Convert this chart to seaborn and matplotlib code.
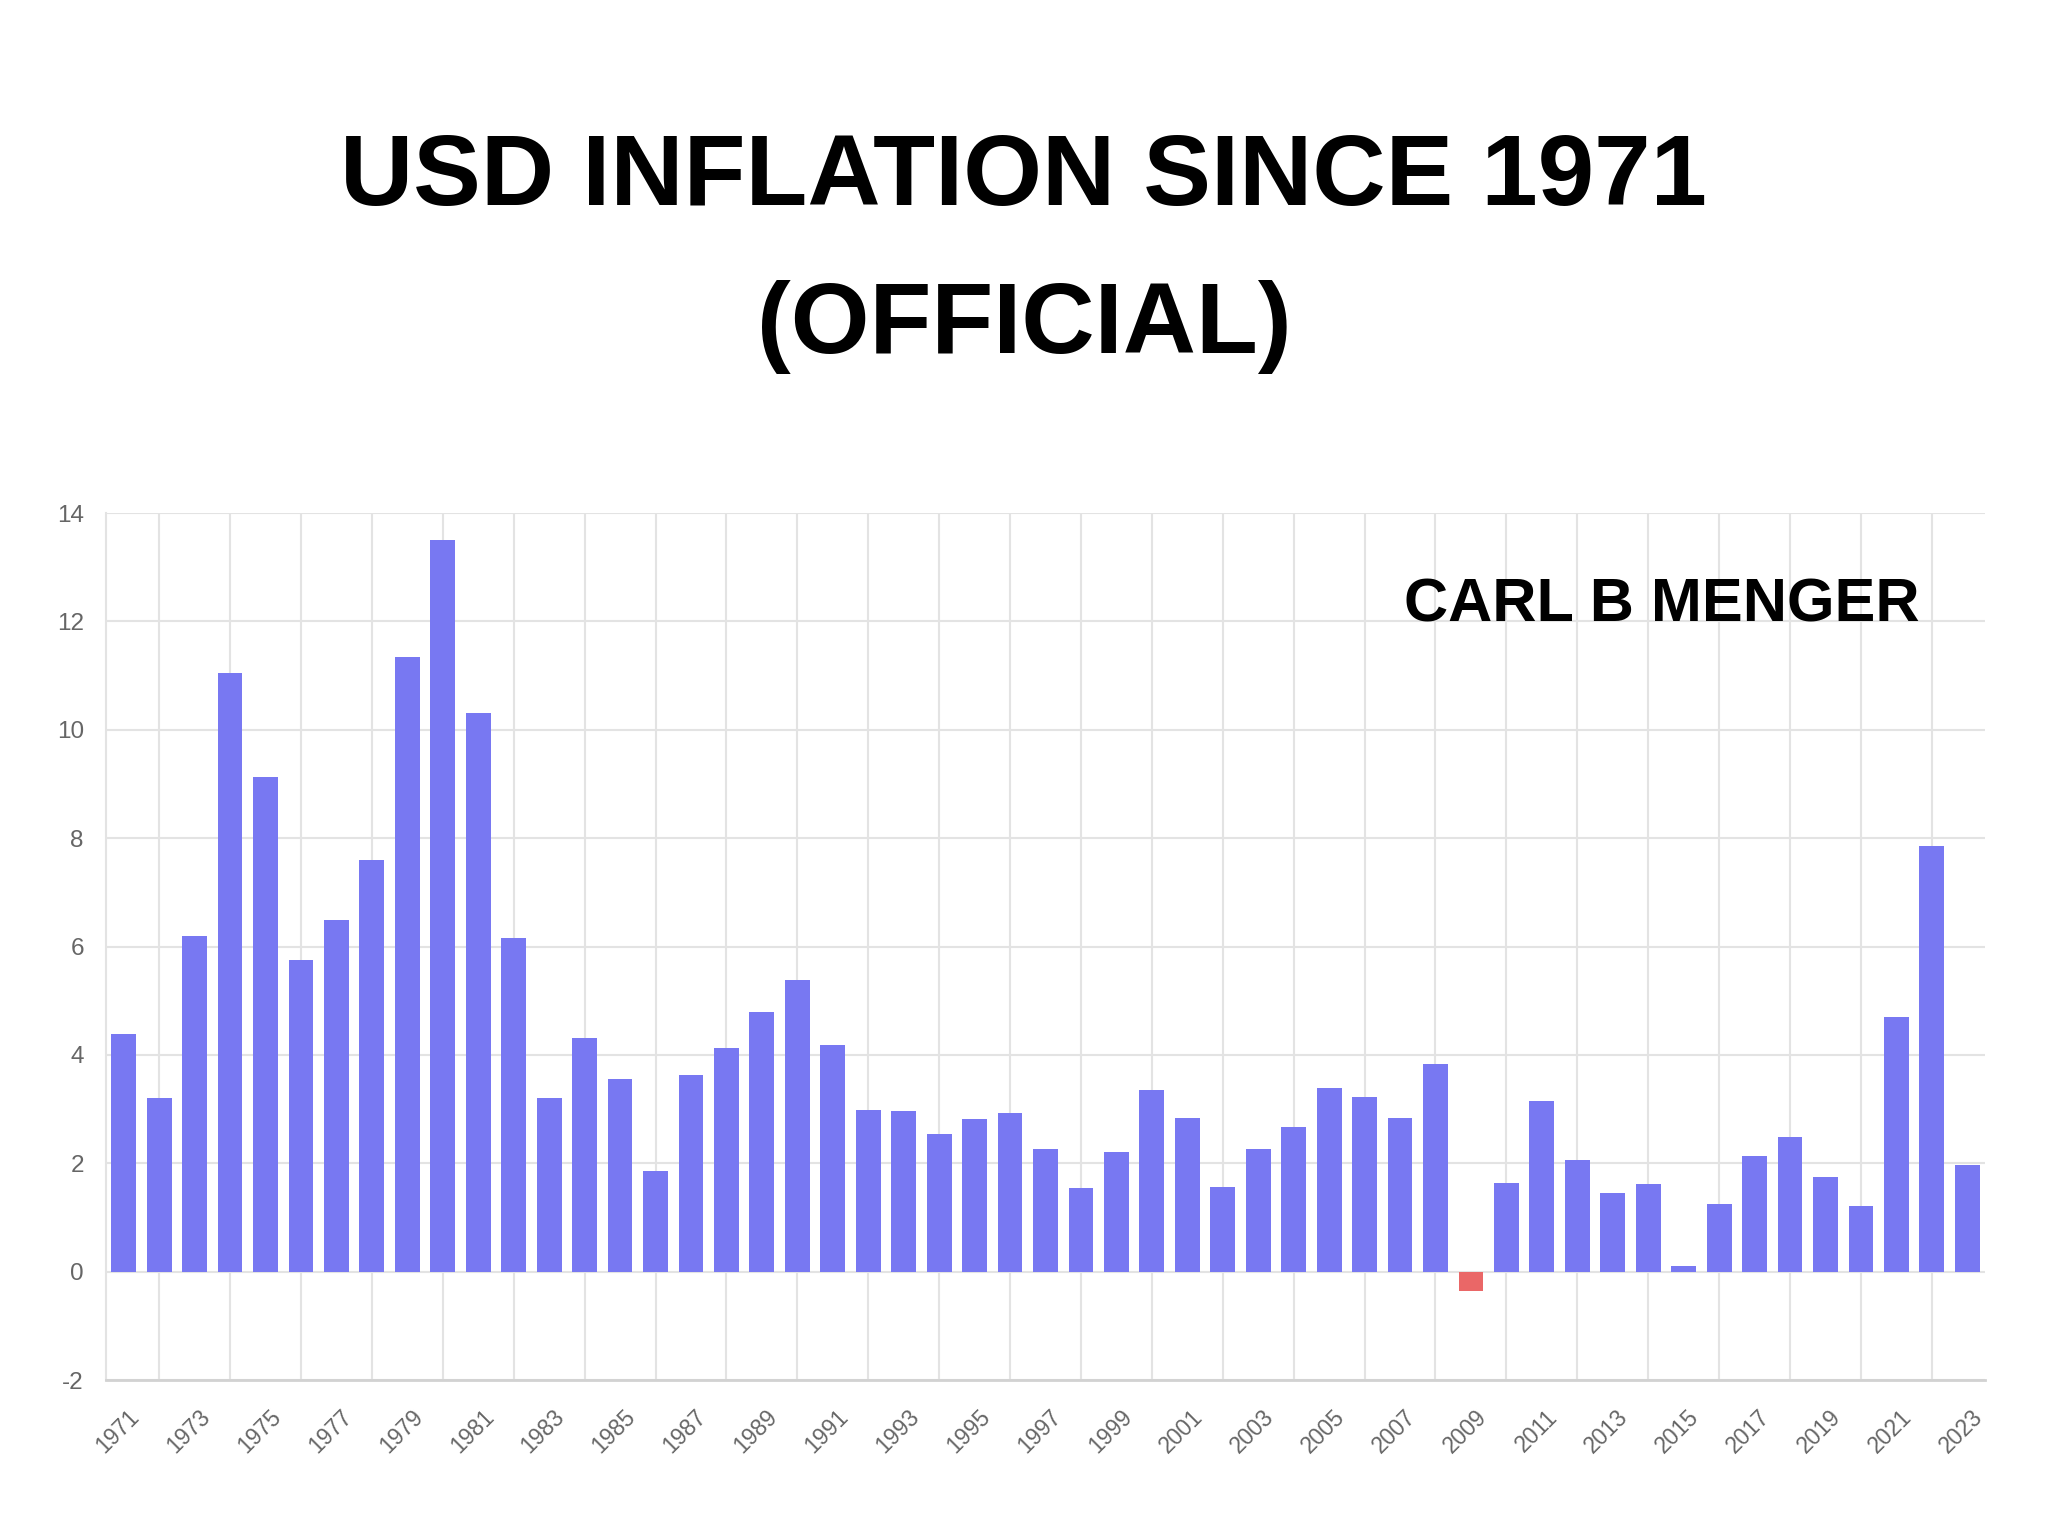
import numpy as np
import pandas as pd

import matplotlib
matplotlib.use("Agg")
import matplotlib.pyplot as plt
import matplotlib.transforms as mtransforms
import seaborn as sns

years = list(range(1971, 2024))
inflation = [
    4.38, 3.20, 6.20, 11.04, 9.12, 5.75, 6.49, 7.59, 11.34, 13.50,
    10.31, 6.15, 3.20, 4.31, 3.55, 1.85, 3.63, 4.12, 4.80, 5.38,
    4.19, 2.99, 2.96, 2.54, 2.81, 2.93, 2.27, 1.54, 2.20, 3.35,
    2.84, 1.57, 2.27, 2.66, 3.38, 3.22, 2.84, 3.83, -0.36, 1.64,
    3.15, 2.06, 1.45, 1.62, 0.11, 1.25, 2.13, 2.49, 1.75, 1.22,
    4.69, 7.85, 1.96,
]
y_ticks = [-2, 0, 2, 4, 6, 8, 10, 12, 14]

title_line1 = "USD INFLATION SINCE 1971"
title_line2 = "(OFFICIAL)"
signature = "CARL B MENGER"

BAR = "#7878F2"
NEG = "#EA6767"
GRID = "#E3E3E3"
TXT = "#666666"

df = pd.DataFrame({"year": [str(y) for y in years], "value": inflation})
colors = [BAR if v >= 0 else NEG for v in df["value"]]

sns.set_style("white")
plt.rcParams["font.family"] = ["Liberation Sans", "DejaVu Sans"]

fig = plt.figure(figsize=(20.48, 15.2), dpi=100)
ax = fig.add_axes([106 / 2048, 0.0921, 1879 / 2048, 0.5704])

sns.barplot(data=df, x="year", y="value", hue="year", palette=colors,
            legend=False, width=0.7, saturation=1, linewidth=0, ax=ax)

ax.set_xlim(-0.5, len(years) - 0.5)
ax.set_ylim(-2, 14)
ax.set_yticks(y_ticks)
ax.set_yticklabels([str(t) for t in y_ticks])
ax.set_xlabel("")
ax.set_ylabel("")

# labels on odd years, grid/ticks on even years
ax.set_xticks(range(0, len(years), 2))
ax.set_xticklabels([str(y) for y in years[::2]], rotation=45, ha="right",
                   va="center", rotation_mode="anchor")
ax.set_xticks(range(1, len(years), 2), minor=True)

ax.set_axisbelow(True)
ax.grid(axis="y", which="major", color=GRID, linewidth=1.5)
ax.grid(axis="x", which="minor", color=GRID, linewidth=1.5)
ax.grid(axis="x", which="major", visible=False)

ax.tick_params(axis="x", which="major", length=0, pad=24, labelsize=16.5, labelcolor=TXT)
ax.tick_params(axis="x", which="minor", length=11, width=1.5, color=GRID)
ax.tick_params(axis="y", length=10, width=1.5, color=GRID, pad=6, labelsize=17.5, labelcolor=TXT)

offset = mtransforms.ScaledTranslation(12 / 100, 0, fig.dpi_scale_trans)
for lab in ax.get_xticklabels():
    lab.set_transform(lab.get_transform() + offset)

for side in ["top", "right"]:
    ax.spines[side].set_visible(False)
ax.spines["left"].set_color(GRID)
ax.spines["left"].set_linewidth(1.5)
ax.spines["bottom"].set_color("#D2D2D2")
ax.spines["bottom"].set_linewidth(2)

fig.text(0.5, 1 - 205 / 1520, title_line1, ha="center", va="baseline",
         fontsize=73, fontweight="bold", color="black")
fig.text(0.5, 1 - 353 / 1520, title_line2, ha="center", va="baseline",
         fontsize=73, fontweight="bold", color="black")
fig.text(1920 / 2048, 1 - 622 / 1520, signature, ha="right", va="baseline",
         fontsize=44, fontweight="bold", color="black")

plt.savefig("out.png", dpi=100, facecolor="white")
